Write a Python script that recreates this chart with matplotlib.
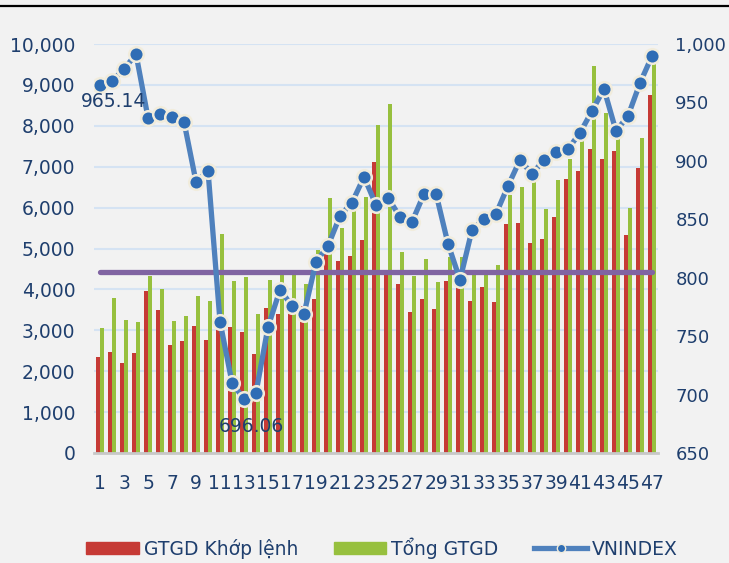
import numpy as np
import matplotlib
matplotlib.use('Agg')
import matplotlib.pyplot as plt
from matplotlib.lines import Line2D
from matplotlib.patches import Patch
from matplotlib.ticker import FuncFormatter

# ---- data ----
sessions = list(range(1, 48))
gtgd_khop_lenh = [2350, 2480, 2210, 2450, 3970, 3500, 2650, 2740, 3110, 2770,
                  3100, 3090, 2960, 2430, 3550, 3400, 3500, 3600, 3770, 5000,
                  4700, 4820, 5210, 7120, 4400, 4140, 3450, 3770, 3530, 4210,
                  4200, 3720, 4060, 3700, 5600, 5630, 5140, 5240, 5770, 6700,
                  6900, 7430, 7190, 7390, 5330, 6970, 8750]
tong_gtgd = [3060, 3790, 3260, 3210, 4330, 4010, 3230, 3350, 3840, 3720,
             5360, 4210, 4310, 3400, 4230, 4350, 4350, 4140, 4970, 6240,
             5500, 5940, 6270, 8020, 8530, 4920, 4330, 4750, 4190, 4790,
             4800, 4400, 4400, 4600, 6310, 6510, 6700, 5970, 6680, 7200,
             7800, 9460, 8310, 7900, 5990, 7700, 9650]
vnindex = [965.14, 968.3, 978.6, 991.4, 936.7, 940.1, 937.5, 933.3, 882.0, 891.4,
           762.3, 710.1, 696.06, 701.6, 758.0, 789.6, 776.0, 769.1, 813.6, 827.3,
           852.9, 864.3, 886.3, 862.3, 868.3, 852.1, 847.8, 871.7, 872.0, 829.0,
           798.2, 840.9, 850.3, 854.6, 878.6, 900.8, 888.8, 900.8, 907.6, 910.2,
           923.9, 942.7, 961.5, 925.6, 938.4, 966.6, 989.7]
avg_level = 4430
labelled = {1: '965.14', 13: '696.06'}

left_ticks = list(range(0, 10001, 1000))
right_ticks = list(range(650, 1001, 50))
x_ticks = list(range(1, 48, 2))

# ---- style ----
BG = '#f2f2f2'
TXT = '#1f3f6e'
RED = '#c63a35'
GREEN = '#97c03e'
BLUE = '#4f81bd'
PURPLE = '#8064a2'

plt.rcParams['font.family'] = 'DejaVu Sans'
plt.rcParams['font.size'] = 13.5

fig = plt.figure(figsize=(7.29, 5.63), dpi=100, facecolor=BG)
ax = fig.add_axes([0.129, 0.1954, 0.9026 - 0.129, 0.9218 - 0.1954])
ax.set_facecolor(BG)

x = np.array(sessions)
w = 0.33
ax.bar(x - w / 2, gtgd_khop_lenh, width=w, color=RED, zorder=2)
ax.bar(x + w / 2, tong_gtgd, width=w, color=GREEN, zorder=2)
ax.plot([x[0], x[-1]], [avg_level, avg_level], color=PURPLE, lw=3.8,
        solid_capstyle='round', zorder=3)

ax.set_xlim(0.5, 47.5)
ax.set_ylim(0, 10000)
ax.set_yticks(left_ticks)
ax.set_xticks(x_ticks)
ax.yaxis.set_major_formatter(FuncFormatter(lambda v, p: f'{int(v):,}'))
ax.grid(axis='y', color='#d5e3f3', lw=1.5, zorder=0)
ax.set_axisbelow(True)
for s in ['top', 'right', 'left']:
    ax.spines[s].set_visible(False)
ax.spines['bottom'].set_color('#c8c8c8')
ax.spines['bottom'].set_linewidth(2)
ax.tick_params(axis='y', length=0, pad=13.5, colors=TXT, labelsize=13.5)
ax.tick_params(axis='x', length=0, pad=15, colors=TXT, labelsize=13.5)

ax2 = ax.twinx()
ax2.set_ylim(650, 1000)
ax2.set_yticks(right_ticks)
ax2.yaxis.set_major_formatter(FuncFormatter(lambda v, p: f'{int(v):,}'))
for s in ax2.spines.values():
    s.set_visible(False)
ax2.tick_params(axis='y', length=0, pad=12.5, colors=TXT, labelsize=13)

ax2.plot(x, vnindex, color=BLUE, lw=3.8, marker='o', ms=10.5,
         mfc='#2f6db5', mec='#f1ecdc', mew=1.8, zorder=5)
# data labels were nudged by hand in the original
offsets = {1: (9.7, -12), 13: (5.4, -19.9)}
for k, txt in labelled.items():
    ax2.annotate(txt, (k, vnindex[k - 1]), xytext=offsets[k], textcoords='offset points',
                 ha='center', va='center', color=TXT, fontsize=13.5, zorder=6)

# legend at the bottom
handles = [Patch(color=RED), Patch(color=GREEN),
           Line2D([], [], color=BLUE, lw=3.8, marker='o', ms=6, mfc='#2f6db5', mec='#f1ecdc')]
labels = ['GTGD Khớp lệnh', 'Tổng GTGD', 'VNINDEX']
fig.legend(handles, labels, loc='center', bbox_to_anchor=(0.524, 0.027), ncol=3,
           frameon=False, handlelength=2.8, handleheight=0.65, handletextpad=0.27,
           columnspacing=1.9, labelcolor=TXT, fontsize=13.5)

# thin black rule along the top
fig.add_artist(Line2D([0, 1], [0.9893, 0.9893], color='black', lw=1.6,
                      transform=fig.transFigure))

plt.savefig('out.png', dpi=100, facecolor=BG)
